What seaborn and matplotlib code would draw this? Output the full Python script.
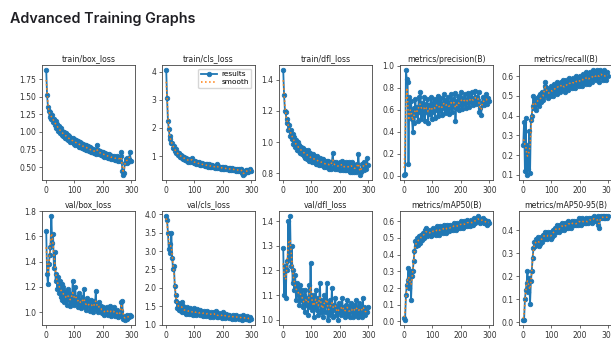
import numpy as np
import matplotlib
matplotlib.use("Agg")
import matplotlib.pyplot as plt
import seaborn as sns

titles = ["train/box_loss", "train/cls_loss", "train/dfl_loss", "metrics/precision(B)", "metrics/recall(B)",
          "val/box_loss", "val/cls_loss", "val/dfl_loss", "metrics/mAP50(B)", "metrics/mAP50-95(B)"]

# values sampled every 3 epochs (1, 4, 7, ..., 298)
train_box_loss = [1.88, 1.52, 1.36, 1.30, 1.22, 1.28, 1.18, 1.24, 1.14, 1.19,
                  1.10, 1.15, 1.05, 1.12, 1.02, 1.08, 0.99, 1.05, 0.96, 1.02,
                  0.94, 1.00, 0.92, 0.98, 0.90, 0.96, 0.88, 0.94, 0.86, 0.92,
                  0.85, 0.91, 0.83, 0.90, 0.82, 0.88, 0.81, 0.87, 0.79, 0.86,
                  0.78, 0.84, 0.77, 0.83, 0.76, 0.82, 0.75, 0.81, 0.74, 0.80,
                  0.73, 0.78, 0.72, 0.77, 0.71, 0.76, 0.70, 0.75, 0.69, 0.82,
                  0.70, 0.74, 0.68, 0.73, 0.67, 0.72, 0.66, 0.71, 0.65, 0.70,
                  0.64, 0.69, 0.63, 0.68, 0.63, 0.67, 0.62, 0.66, 0.61, 0.66,
                  0.60, 0.65, 0.60, 0.66, 0.59, 0.64, 0.59, 0.66, 0.72, 0.45,
                  0.39, 0.42, 0.56, 0.62, 0.56, 0.63, 0.57, 0.62, 0.72, 0.58]
train_cls_loss = [4.05, 3.05, 2.25, 1.95, 1.70, 1.62, 1.45, 1.48, 1.30, 1.35,
                  1.18, 1.24, 1.10, 1.16, 1.03, 1.10, 0.98, 1.05, 0.94, 1.01,
                  0.90, 0.97, 0.87, 0.94, 0.84, 0.91, 0.81, 0.88, 0.79, 0.86,
                  0.95, 0.78, 0.84, 0.75, 0.82, 0.73, 0.80, 0.71, 0.78, 0.70,
                  0.76, 0.68, 0.75, 0.67, 0.73, 0.66, 0.72, 0.64, 0.71, 0.63,
                  0.72, 0.62, 0.68, 0.61, 0.67, 0.60, 0.66, 0.59, 0.65, 0.72,
                  0.58, 0.64, 0.57, 0.63, 0.56, 0.62, 0.55, 0.61, 0.54, 0.60,
                  0.53, 0.59, 0.53, 0.58, 0.52, 0.57, 0.51, 0.57, 0.50, 0.56,
                  0.50, 0.55, 0.49, 0.54, 0.48, 0.54, 0.48, 0.53, 0.56, 0.40,
                  0.34, 0.38, 0.46, 0.50, 0.44, 0.50, 0.45, 0.49, 0.55, 0.46]
train_dfl_loss = [1.46, 1.30, 1.20, 1.19, 1.12, 1.15, 1.08, 1.11, 1.04, 1.08,
                  1.02, 1.05, 0.99, 1.03, 0.97, 1.01, 0.95, 1.00, 0.94, 0.98,
                  0.93, 0.97, 0.92, 0.96, 0.91, 0.95, 0.90, 0.94, 0.89, 0.95,
                  0.88, 0.93, 0.88, 0.92, 0.87, 0.92, 0.87, 0.91, 0.86, 0.91,
                  0.86, 0.90, 0.85, 0.90, 0.85, 0.89, 0.85, 0.89, 0.84, 0.88,
                  0.84, 0.88, 0.84, 0.88, 0.83, 0.87, 0.83, 0.87, 0.93, 0.84,
                  0.87, 0.83, 0.87, 0.83, 0.86, 0.83, 0.87, 0.82, 0.86, 0.88,
                  0.82, 0.86, 0.82, 0.87, 0.82, 0.86, 0.82, 0.87, 0.81, 0.85,
                  0.87, 0.81, 0.86, 0.81, 0.85, 0.81, 0.86, 0.82, 0.92, 0.82,
                  0.79, 0.81, 0.86, 0.83, 0.87, 0.82, 0.86, 0.83, 0.90, 0.85]
precision = [0.01, 0.02, 0.96, 0.88, 0.85, 0.11, 0.72, 0.55, 0.68, 0.52, 0.40, 0.62, 0.48, 0.70, 0.55, 0.63, 0.50, 0.72, 0.58, 0.76,
             0.52, 0.66, 0.55, 0.72, 0.50, 0.65, 0.58, 0.70, 0.48, 0.64, 0.56, 0.72, 0.52, 0.66, 0.58, 0.70, 0.53, 0.67, 0.60, 0.73,
             0.54, 0.68, 0.59, 0.71, 0.55, 0.66, 0.62, 0.74, 0.57, 0.69, 0.60, 0.72, 0.56, 0.67, 0.62, 0.74, 0.58, 0.70, 0.63, 0.75,
             0.50, 0.68, 0.62, 0.73, 0.60, 0.70, 0.64, 0.76, 0.61, 0.71, 0.65, 0.74, 0.62, 0.70, 0.66, 0.75, 0.63, 0.72, 0.67, 0.76,
             0.64, 0.71, 0.68, 0.77, 0.65, 0.72, 0.69, 0.76, 0.58, 0.62, 0.55, 0.66, 0.72, 0.64, 0.70, 0.67, 0.74, 0.65, 0.71, 0.68]
recall = [0.25, 0.37, 0.12, 0.39, 0.10, 0.25, 0.13, 0.32, 0.11, 0.38, 0.40, 0.45, 0.50, 0.44, 0.48, 0.43, 0.49, 0.46, 0.50, 0.45,
          0.51, 0.47, 0.52, 0.48, 0.50, 0.55, 0.57, 0.51, 0.54, 0.49, 0.53, 0.50, 0.55, 0.51, 0.54, 0.50, 0.56, 0.52, 0.55, 0.51,
          0.57, 0.53, 0.56, 0.52, 0.57, 0.54, 0.58, 0.53, 0.56, 0.52, 0.58, 0.54, 0.57, 0.53, 0.59, 0.55, 0.57, 0.54, 0.59, 0.55,
          0.58, 0.54, 0.60, 0.56, 0.58, 0.55, 0.60, 0.56, 0.59, 0.55, 0.61, 0.57, 0.60, 0.56, 0.62, 0.58, 0.60, 0.56, 0.62, 0.58,
          0.61, 0.57, 0.63, 0.59, 0.61, 0.58, 0.63, 0.59, 0.62, 0.57, 0.63, 0.60, 0.62, 0.58, 0.63, 0.59, 0.61, 0.58, 0.62, 0.60]
val_box_loss = [1.64, 1.30, 1.22, 1.38, 1.45, 1.52, 1.76, 1.55, 1.62, 1.35, 1.48, 1.25, 1.30, 1.18, 1.28, 1.15, 1.25, 1.12, 1.22, 1.10,
                1.20, 1.08, 1.17, 1.12, 1.06, 1.18, 1.10, 1.15, 1.05, 1.13, 1.08, 1.25, 1.10, 1.06, 1.20, 1.08, 1.12, 1.04, 1.15, 1.07,
                1.10, 1.03, 1.12, 1.06, 1.18, 1.04, 1.09, 1.02, 1.11, 1.05, 1.08, 1.01, 1.10, 1.04, 1.07, 1.00, 1.09, 1.03, 1.17, 1.02,
                1.06, 1.00, 1.08, 1.03, 1.05, 0.99, 1.04, 1.01, 0.98, 1.03, 1.00, 1.04, 0.98, 1.02, 1.00, 1.05, 0.97, 1.01, 0.99, 1.04,
                0.97, 1.00, 0.98, 1.02, 0.96, 0.99, 0.97, 1.01, 1.08, 1.09, 0.95, 0.97, 0.94, 0.96, 0.98, 0.95, 0.97, 0.96, 0.98, 0.97]
val_cls_loss = [3.95, 3.85, 3.50, 3.05, 3.20, 2.95, 3.50, 2.80, 2.50, 2.60, 2.05, 1.80, 1.65, 1.45, 1.60, 1.40, 1.55, 1.38, 1.62, 1.35,
                1.50, 1.33, 1.45, 1.30, 1.48, 1.32, 1.42, 1.28, 1.46, 1.30, 1.40, 1.27, 1.45, 1.32, 1.38, 1.26, 1.42, 1.30, 1.36, 1.25,
                1.40, 1.28, 1.35, 1.24, 1.38, 1.27, 1.33, 1.23, 1.36, 1.26, 1.31, 1.22, 1.34, 1.25, 1.30, 1.21, 1.33, 1.24, 1.38, 1.22,
                1.28, 1.20, 1.31, 1.23, 1.27, 1.19, 1.35, 1.22, 1.30, 1.18, 1.29, 1.21, 1.25, 1.17, 1.27, 1.20, 1.24, 1.16, 1.26, 1.19,
                1.23, 1.15, 1.25, 1.18, 1.22, 1.14, 1.24, 1.17, 1.21, 1.13, 1.25, 1.16, 1.20, 1.14, 1.23, 1.16, 1.19, 1.13, 1.20, 1.15]
val_dfl_loss = [1.29, 1.10, 1.22, 1.09, 1.24, 1.20, 1.40, 1.25, 1.42, 1.22, 1.30, 1.15, 1.20, 1.12, 1.18, 1.08, 1.15, 1.10, 1.13, 1.06,
                1.14, 1.08, 1.12, 1.05, 1.10, 1.03, 1.12, 1.06, 1.09, 1.02, 1.14, 1.05, 1.23, 1.08, 1.04, 1.10, 1.01, 1.08, 1.12, 1.04,
                1.09, 1.02, 1.07, 1.15, 1.03, 1.08, 1.01, 1.06, 1.10, 1.03, 1.07, 1.15, 1.00, 1.06, 1.02, 1.08, 1.03, 1.13, 1.01, 1.06,
                1.04, 1.09, 1.02, 1.05, 1.00, 1.07, 1.03, 1.06, 1.02, 1.09, 1.03, 1.05, 1.01, 1.06, 1.03, 1.08, 1.02, 1.05, 1.01, 1.07,
                1.03, 1.05, 1.01, 1.06, 1.02, 1.08, 1.03, 1.05, 1.01, 1.07, 1.02, 1.05, 1.01, 1.09, 1.03, 1.05, 1.02, 1.04, 1.03, 1.05]
map50 = [0.02, 0.01, 0.16, 0.22, 0.25, 0.32, 0.20, 0.30, 0.13, 0.27, 0.30, 0.36, 0.42, 0.48, 0.45, 0.50, 0.46, 0.51, 0.47, 0.50,
         0.52, 0.49, 0.53, 0.50, 0.55, 0.52, 0.56, 0.51, 0.54, 0.52, 0.55, 0.51, 0.54, 0.52, 0.56, 0.53, 0.55, 0.52, 0.57, 0.53,
         0.55, 0.52, 0.57, 0.54, 0.56, 0.53, 0.58, 0.54, 0.56, 0.53, 0.58, 0.55, 0.57, 0.54, 0.58, 0.55, 0.57, 0.55, 0.59, 0.56,
         0.58, 0.55, 0.59, 0.56, 0.58, 0.56, 0.60, 0.57, 0.59, 0.56, 0.60, 0.57, 0.59, 0.57, 0.61, 0.58, 0.60, 0.57, 0.61, 0.58,
         0.60, 0.58, 0.62, 0.59, 0.61, 0.60, 0.63, 0.60, 0.62, 0.59, 0.61, 0.60, 0.62, 0.59, 0.61, 0.59, 0.60, 0.58, 0.60, 0.59]
map50_95 = [0.01, 0.01, 0.10, 0.14, 0.17, 0.22, 0.13, 0.19, 0.08, 0.18, 0.22, 0.28, 0.32, 0.35, 0.33, 0.36, 0.34, 0.37, 0.33, 0.36,
            0.34, 0.37, 0.35, 0.38, 0.36, 0.39, 0.37, 0.38, 0.36, 0.39, 0.37, 0.38, 0.36, 0.39, 0.37, 0.40, 0.38, 0.41, 0.39, 0.42,
            0.40, 0.41, 0.39, 0.42, 0.40, 0.43, 0.41, 0.42, 0.40, 0.43, 0.41, 0.43, 0.41, 0.44, 0.42, 0.43, 0.41, 0.44, 0.42, 0.44,
            0.42, 0.43, 0.42, 0.44, 0.42, 0.45, 0.43, 0.44, 0.42, 0.45, 0.43, 0.44, 0.43, 0.45, 0.43, 0.44, 0.43, 0.45, 0.44, 0.45,
            0.43, 0.45, 0.44, 0.46, 0.44, 0.45, 0.44, 0.46, 0.42, 0.41, 0.45, 0.46, 0.45, 0.46, 0.45, 0.46, 0.45, 0.46, 0.45, 0.46]

series = [train_box_loss, train_cls_loss, train_dfl_loss, precision, recall,
          val_box_loss, val_cls_loss, val_dfl_loss, map50, map50_95]


def smooth(v, sigma=1.0):
    v = np.asarray(v, float)
    r = int(4 * sigma + 0.5)
    k = np.exp(-0.5 * (np.arange(-r, r + 1) / sigma) ** 2)
    k /= k.sum()
    p = np.pad(v, r, mode="symmetric")
    return np.convolve(p, k, mode="valid")


W, H = 611, 340
fig = plt.figure(figsize=(W / 100, H / 100), dpi=100)
fig.patch.set_facecolor("white")
plt.rcParams["font.family"] = ["DejaVu Sans"]

fig.text(10 / W, 1 - 19 / H, "Advanced Training Graphs", fontsize=10.3, fontweight="semibold",
         family=["Inter", "DejaVu Sans"], color="#1f1f24", va="center", ha="left")

lefts = [42, 162, 279, 400, 519]
rows = [(65, 180), (211, 325)]
aw = 93
blue = "#1f77b4"
orange = "#ff7f0e"

for i, (title, vals) in enumerate(zip(titles, series)):
    r, c = divmod(i, 5)
    top, bot = rows[r]
    ax = fig.add_axes([lefts[c] / W, 1 - bot / H, aw / W, (bot - top) / H])
    x = 1 + 3 * np.arange(len(vals))
    sns.lineplot(x=x, y=np.asarray(vals, float), ax=ax, color=blue, marker=".", markersize=6.5,
                 mec=blue, mfc=blue, mew=0.6, linewidth=1.3, label="results", legend=False)
    sns.lineplot(x=x, y=smooth(vals), ax=ax, color=orange, linestyle=":", linewidth=1.1,
                 label="smooth", legend=False)
    ax.set_title(title, fontsize=5.6, pad=2.5, color="#222")
    ax.set_xlabel("")
    ax.set_ylabel("")
    ax.set_xticks([0, 100, 200, 300])
    ax.tick_params(labelsize=5.5, length=2.5, width=0.5, pad=1.5, colors="#333")
    for s in ax.spines.values():
        s.set_linewidth(0.6)
        s.set_color("#444")
    if i == 1:
        ax.legend(fontsize=5.3, loc="upper right", handlelength=2.2, borderpad=0.35,
                  labelspacing=0.25, handletextpad=0.6, framealpha=0.8)

fig.savefig("out.png", dpi=100)
